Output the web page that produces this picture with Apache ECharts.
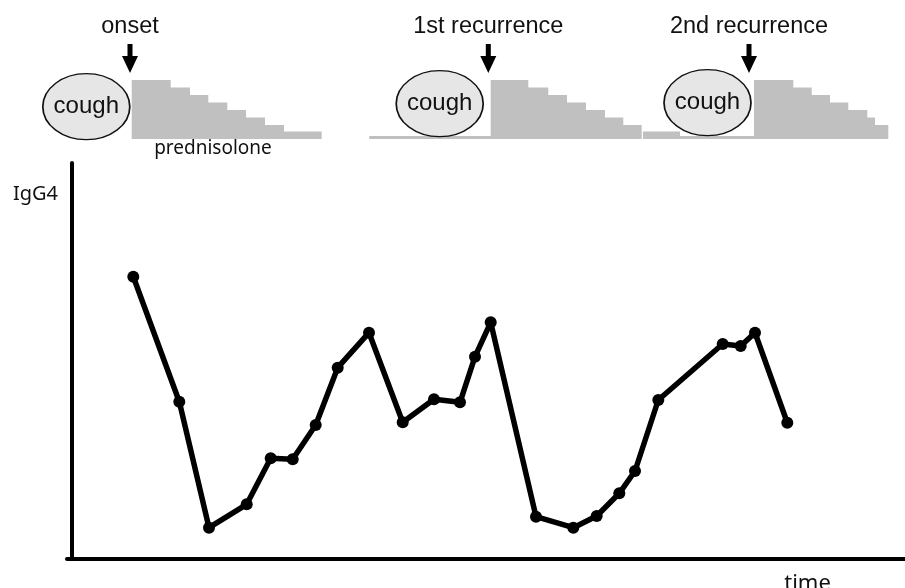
<!DOCTYPE html>
<html>
<head>
<meta charset="utf-8">
<script src="https://cdn.jsdelivr.net/npm/echarts@6/dist/echarts.min.js"></script>
<style>
  html, body { margin: 0; padding: 0; background: #fff; }
  #chart { width: 905px; height: 588px; }
</style>
</head>
<body>
<div id="chart"></div>
<script>
// ---- Main IgG4 time course (time in arbitrary units, IgG4 in arbitrary units)
const timePoints = [66.3, 112.3, 142, 179.7, 203.7, 225.7, 248.7, 270.7, 302, 335.7, 367, 393,
                    408, 423.7, 469, 506.3, 529.7, 552.3, 568, 591.3, 655.7, 673.7, 688, 720.3];
const igg4Values = [282.3, 157.3, 31.3, 54.7, 100.7, 99.7, 134, 191.3, 226.3, 136.7, 159.7, 156.7,
                    202.3, 236.7, 42.3, 31.3, 43, 65.7, 88, 159, 215, 213, 226.3, 136.3];

// ---- Prednisolone tapering schedules (start time of each step, dose level)
const onsetStepTime   = [64.7, 103.7, 123, 141.3, 160.3, 179, 198, 217, 254.7];
const onsetStepDose   = [59, 51.5, 44, 36.5, 29, 21.5, 14, 7.5, 7.5];
const rec1StepTime    = [302.3, 423.7, 461.3, 481.3, 500, 519, 538, 556.3, 574.7];
const rec1StepDose    = [3, 59, 51.5, 44, 36.5, 29, 21.5, 14, 14];
const rec2StepTime    = [576, 613, 687, 726.3, 744.7, 763, 781.3, 800.3, 808, 821.3];
const rec2StepDose    = [7.5, 3, 59, 51.5, 44, 36.5, 29, 21.5, 14, 14];

// ---- Cough episodes and event arrows
const coughTime  = [19.3, 372.7, 640.5];
const coughLevel = [32.3, 35.3, 36.3];
const eventTime  = [63, 421.3, 682];
const eventLevel = [80.5, 80.5, 80.5];
const eventLabels = ['onset', '1st recurrence', '2nd recurrence'];

const zip = (a, b) => a.map((v, i) => [v, b[i]]);

const chart = echarts.init(document.getElementById('chart'), null, { renderer: 'canvas' });

const stepSeries = (data) => ({
  type: 'line', xAxisIndex: 1, yAxisIndex: 1, step: 'end',
  data: data, symbol: 'none', silent: true,
  lineStyle: { width: 0 },
  areaStyle: { color: '#c0c0c0', opacity: 1 },
  z: 1
});

const arrowPath = 'path://M5.5,0 L10.5,0 L10.5,12 L16,12 L8,29 L0,12 L5.5,12 Z';

const option = {
  animation: false,
  backgroundColor: '#fff',
  grid: [
    { left: 67, right: 0, top: 163, bottom: 29 },
    { left: 67, right: 0, top: 39, height: 100 }
  ],
  xAxis: [
    { gridIndex: 0, type: 'value', min: 0, max: 838,
      axisLine: { show: true, onZero: false, lineStyle: { color: '#000', width: 4 } },
      axisTick: { show: false }, axisLabel: { show: false }, splitLine: { show: false } },
    { gridIndex: 1, type: 'value', min: 0, max: 838, show: false }
  ],
  yAxis: [
    { gridIndex: 0, type: 'value', min: 0, max: 396, offset: -5,
      axisLine: { show: true, onZero: false, lineStyle: { color: '#000', width: 4 } },
      axisTick: { show: false }, axisLabel: { show: false }, splitLine: { show: false } },
    { gridIndex: 1, type: 'value', min: 0, max: 100, show: false }
  ],
  series: [
    stepSeries(zip(onsetStepTime, onsetStepDose)),
    stepSeries(zip(rec1StepTime, rec1StepDose)),
    stepSeries(zip(rec2StepTime, rec2StepDose)),
    {
      type: 'scatter', xAxisIndex: 1, yAxisIndex: 1,
      data: zip(coughTime, coughLevel),
      symbol: 'circle', symbolSize: [87, 66], silent: true,
      itemStyle: { color: '#e6e6e6', borderColor: '#111', borderWidth: 1.5, opacity: 1 },
      label: { show: true, position: 'inside', formatter: 'cough',
               fontFamily: 'Liberation Sans', fontSize: 24, color: '#111' },
      z: 3
    },
    {
      type: 'scatter', xAxisIndex: 1, yAxisIndex: 1,
      data: zip(eventTime, eventLevel).map((d, i) => ({ value: d, name: eventLabels[i] })),
      symbol: arrowPath, symbolSize: [16, 29], symbolKeepAspect: false, silent: true,
      itemStyle: { color: '#000', opacity: 1 },
      label: { show: true, position: 'top', distance: 5, formatter: '{b}',
               fontFamily: 'Liberation Sans', fontSize: 23.5, color: '#111' },
      z: 3
    },
    {
      type: 'line', xAxisIndex: 0, yAxisIndex: 0,
      data: zip(timePoints, igg4Values),
      symbol: 'circle', symbolSize: 12, silent: true,
      itemStyle: { color: '#000' },
      lineStyle: { color: '#000', width: 5.5, join: 'round' },
      z: 5
    }
  ],
  graphic: [
    { type: 'text', x: 213, y: 149, silent: true,
      style: { text: 'prednisolone', fill: '#111',
               font: '19px "Noto Sans"', textAlign: 'center', textVerticalAlign: 'middle' } },
    { type: 'text', x: 35.5, y: 194, silent: true,
      style: { text: 'IgG4', fill: '#111', font: '20px "Noto Sans"',
               textAlign: 'center', textVerticalAlign: 'middle' } },
    { type: 'text', x: 807.5, y: 584, silent: true,
      style: { text: 'time', fill: '#111', font: '22px "Noto Sans"',
               textAlign: 'center', textVerticalAlign: 'middle' } }
  ]
};

chart.setOption(option);
</script>
</body>
</html>
